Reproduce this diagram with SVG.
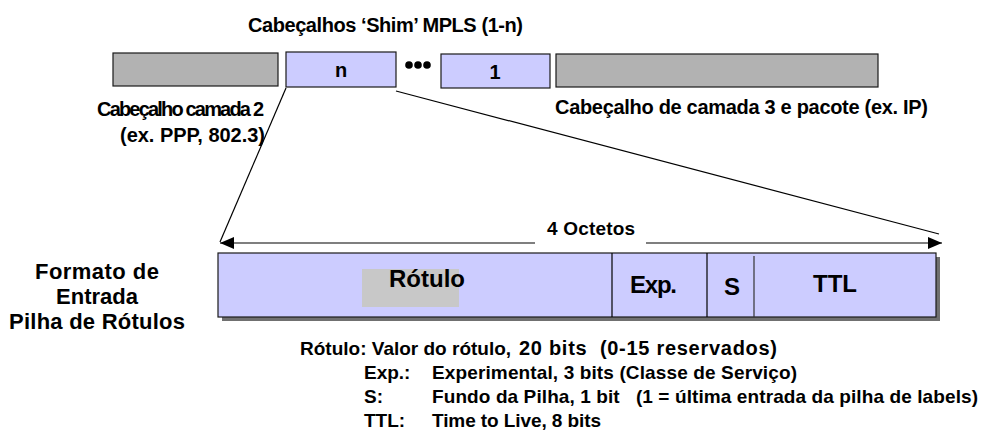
<svg xmlns="http://www.w3.org/2000/svg" width="982" height="437" viewBox="0 0 982 437">
<defs>
<style>
text{font-family:"Liberation Sans",Arial,sans-serif;font-weight:bold;fill:#000}
.t20{font-size:20px}
.t19{font-size:19px}
.t22{font-size:22px}
.t24{font-size:24px}
.lg{font-size:19px}
.hdr{fill:#b2b2b2;stroke:#1a1a1a;stroke-width:1.2}
.shim{fill:#ccccff;stroke:#1a1a1a;stroke-width:1.2}
.ln{stroke:#000;stroke-width:1.2;fill:none}
</style>
<marker id="ah" viewBox="0 0 14 12" refX="14" refY="6" markerWidth="14" markerHeight="12" markerUnits="userSpaceOnUse" orient="auto-start-reverse">
<path d="M0,0 L14,6 L0,12 Z" fill="#000"/>
</marker>
</defs>
<rect width="982" height="437" fill="#fff"/>

<text class="t20" x="248" y="32" textLength="275">Cabeçalhos ‘Shim’ MPLS (1-n)</text>

<g id="layer2-header">
<rect class="hdr" x="113" y="53" width="165" height="33"/>
<text class="t20" x="97" y="116" textLength="167">Cabeçalho camada 2</text>
<text class="t20" x="120" y="142" textLength="145">(ex. PPP, 802.3)</text>
</g>

<g id="shim-n">
<rect class="shim" x="286" y="52" width="110" height="35"/>
<text class="t20" x="341" y="77" text-anchor="middle">n</text>
</g>

<g id="dots">
<circle cx="409" cy="65" r="3.8"/>
<circle cx="418" cy="65" r="3.8"/>
<circle cx="427" cy="65" r="3.8"/>
</g>

<g id="shim-1">
<rect class="shim" x="441" y="54" width="109" height="34"/>
<text class="t20" x="495" y="79" text-anchor="middle">1</text>
</g>

<g id="layer3-header">
<rect class="hdr" x="556" y="54" width="322" height="33"/>
<text class="t20" x="555" y="114" textLength="373">Cabeçalho de camada 3 e pacote (ex. IP)</text>
</g>

<g id="connectors">
<line class="ln" x1="286" y1="88" x2="220" y2="242"/>
<line class="ln" x1="396" y1="91" x2="939" y2="234"/>
<line class="ln" x1="535" y1="243" x2="220" y2="243" marker-end="url(#ah)"/>
<line class="ln" x1="646" y1="243" x2="942" y2="243" marker-end="url(#ah)"/>
</g>

<text class="t19" x="547" y="235" textLength="88">4 Octetos</text>

<g id="label-entry">
<rect x="222" y="257" width="718" height="64" fill="#707070"/>
<rect class="shim" x="218" y="253" width="718" height="64"/>
<line class="ln" x1="612" y1="253" x2="612" y2="317"/>
<line class="ln" x1="707" y1="253" x2="707" y2="317"/>
<line x1="754" y1="256" x2="754" y2="317" stroke="#333" stroke-width="1.2"/>
<rect x="362" y="269" width="97" height="38" fill="#c8c8c8"/>
<text class="t24" x="389" y="287">Rótulo</text>
<text class="t24" x="630" y="293" textLength="47">Exp.</text>
<text class="t24" x="732" y="295" text-anchor="middle">S</text>
<text class="t24" x="813" y="292" textLength="44">TTL</text>
</g>

<g id="format-title">
<text class="t22" x="97" y="279" text-anchor="middle" textLength="124">Formato de</text>
<text class="t22" x="97" y="304" text-anchor="middle">Entrada</text>
<text class="t22" x="97" y="329" text-anchor="middle" textLength="176">Pilha de Rótulos</text>
</g>

<g id="legend">
<text class="lg" x="300" y="355">Rótulo: Valor do rótulo,</text>
<text class="t20" x="519" y="355" textLength="258" xml:space="preserve">20 bits  (0-15 reservados)</text>
<text class="lg" x="364" y="379">Exp.:</text>
<text class="lg" x="432" y="379" textLength="365">Experimental, 3 bits (Classe de Serviço)</text>
<text class="lg" x="364" y="403">S:</text>
<text class="lg" x="432" y="403" textLength="546" xml:space="preserve">Fundo da Pilha, 1 bit   (1 = última entrada da pilha de labels)</text>
<text class="lg" x="364" y="427">TTL:</text>
<text class="lg" x="432" y="427" textLength="169">Time to Live, 8 bits</text>
</g>
</svg>
